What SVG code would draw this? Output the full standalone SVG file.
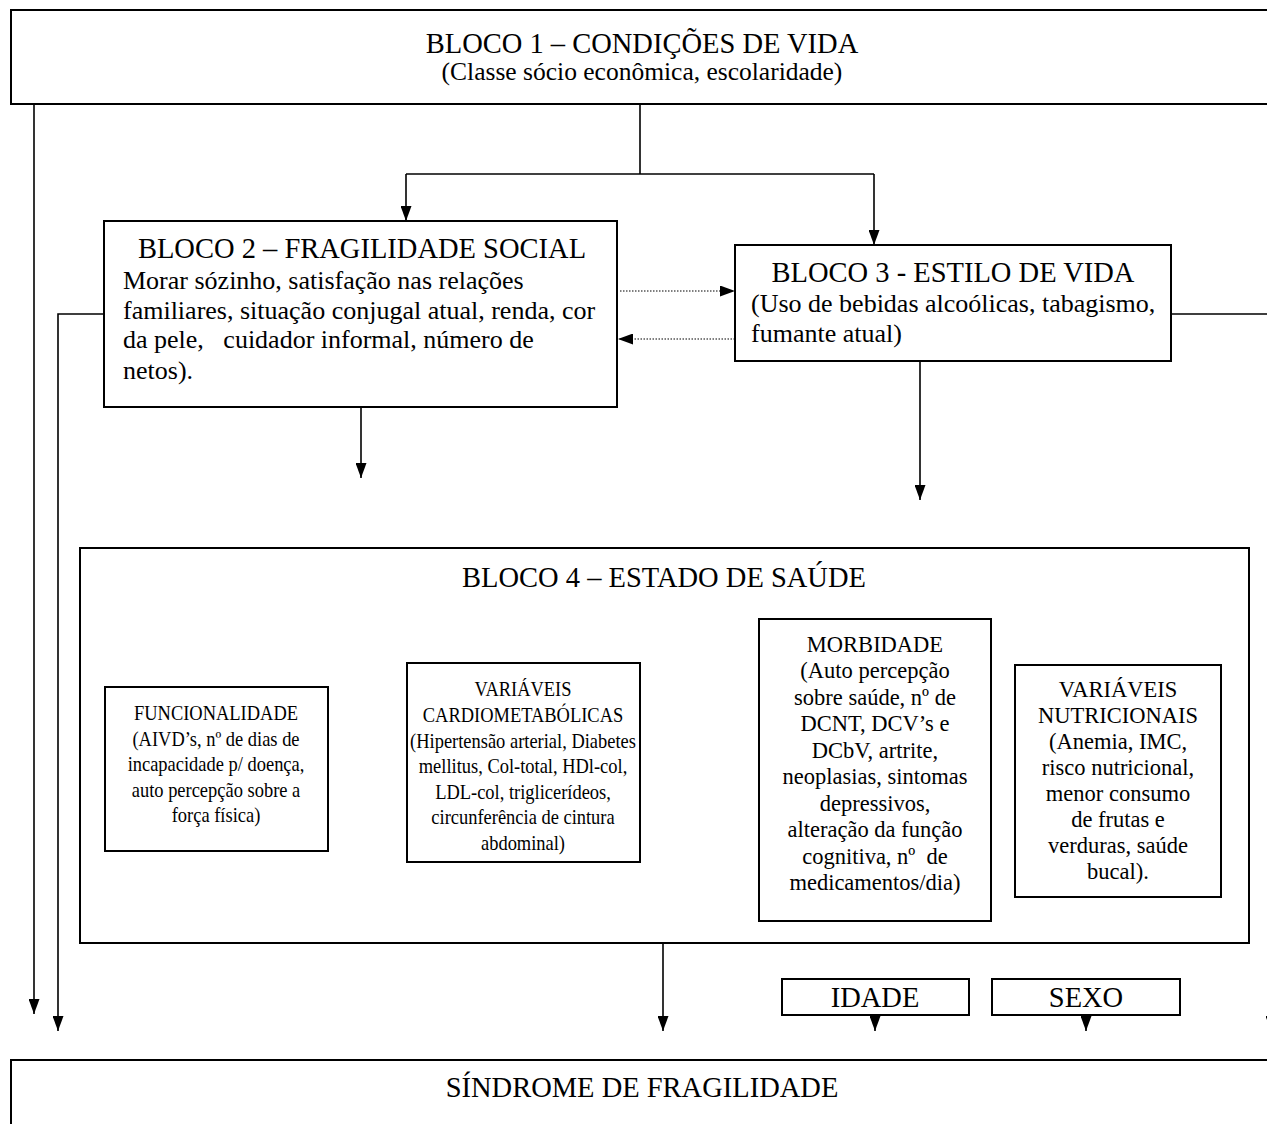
<svg xmlns="http://www.w3.org/2000/svg" width="1267" height="1124" viewBox="0 0 1267 1124">
  <style>
    .box { fill: #fff; stroke: #000; stroke-width: 2; }
    .wire { fill: none; stroke: #000; stroke-width: 1.6; }
    .dot { fill: none; stroke: #000; stroke-width: 1.2; stroke-dasharray: 1.5 1.5; }
    text { font-family: "Liberation Serif", "Times New Roman", serif; fill: #000; }
    .title { font-size: 28.5px; text-anchor: middle; }
    .sub { font-size: 25.5px; text-anchor: middle; }
    .body { font-size: 26px; }
    .cond { font-size: 20.5px; text-anchor: middle; }
    .mid { font-size: 22.5px; text-anchor: middle; }
  </style>
  <defs>
    <marker id="arrow" viewBox="0 0 15 11" refX="15" refY="5.5" markerWidth="15" markerHeight="11" markerUnits="userSpaceOnUse" orient="auto">
      <path d="M0,0 L15,5.5 L0,11 z" fill="#000"/>
    </marker>
  </defs>
  <rect width="1267" height="1124" fill="#fff"/>

  <!-- connectors -->
  <g id="connectors">
    <path class="wire" d="M34,104 V1014" marker-end="url(#arrow)"/>
    <path class="wire" d="M640,104 V174"/>
    <path class="wire" d="M406,174 H874"/>
    <path class="wire" d="M406,174 V221" marker-end="url(#arrow)"/>
    <path class="wire" d="M874,174 V245" marker-end="url(#arrow)"/>
    <path class="wire" d="M104,314 H58 V1031" marker-end="url(#arrow)"/>
    <path class="wire" d="M1171,314 H1271 V1031" marker-end="url(#arrow)"/>
    <path class="dot" d="M620,291 H735" marker-end="url(#arrow)"/>
    <path class="dot" d="M735,339 H618" marker-end="url(#arrow)"/>
    <path class="wire" d="M361,407 V478" marker-end="url(#arrow)"/>
    <path class="wire" d="M920,361 V500" marker-end="url(#arrow)"/>
    <path class="wire" d="M663,943 V1031" marker-end="url(#arrow)"/>
    <path class="wire" d="M875,1015 V1031" marker-end="url(#arrow)"/>
    <path class="wire" d="M1086,1015 V1031" marker-end="url(#arrow)"/>
  </g>

  <!-- Bloco 1 -->
  <g id="bloco1">
    <rect class="box" x="11" y="10" width="1275" height="94"/>
    <text class="title" x="642" y="53">BLOCO 1 – CONDIÇÕES DE VIDA</text>
    <text class="sub" x="642" y="80">(Classe sócio econômica, escolaridade)</text>
  </g>

  <!-- Bloco 2 -->
  <g id="bloco2">
    <rect class="box" x="104" y="221" width="513" height="186"/>
    <text class="title" x="362" y="258">BLOCO 2 – FRAGILIDADE SOCIAL</text>
    <text class="body" x="123" y="289">Morar sózinho, satisfação nas relações</text>
    <text class="body" x="123" y="319">familiares, situação conjugal atual, renda, cor</text>
    <text class="body" x="123" y="348" xml:space="preserve">da pele,   cuidador informal, número de</text>
    <text class="body" x="123" y="379">netos).</text>
  </g>

  <!-- Bloco 3 -->
  <g id="bloco3">
    <rect class="box" x="735" y="245" width="436" height="116"/>
    <text class="title" x="953" y="282">BLOCO 3 - ESTILO DE VIDA</text>
    <text class="body" x="751" y="312">(Uso de bebidas alcoólicas, tabagismo,</text>
    <text class="body" x="751" y="342">fumante atual)</text>
  </g>

  <!-- Bloco 4 -->
  <g id="bloco4">
    <rect class="box" x="80" y="548" width="1169" height="395"/>
    <text class="title" x="664" y="587">BLOCO 4 – ESTADO DE SAÚDE</text>
  </g>

  <g id="funcionalidade">
    <rect class="box" x="105" y="687" width="223" height="164"/>
    <g transform="translate(216 0) scale(0.9 1)">
      <text class="cond" x="0" y="720">FUNCIONALIDADE</text>
      <text class="cond" x="0" y="746">(AIVD’s, nº de dias de</text>
      <text class="cond" x="0" y="771">incapacidade p/ doença,</text>
      <text class="cond" x="0" y="797">auto percepção sobre a</text>
      <text class="cond" x="0" y="822">força física)</text>
    </g>
  </g>

  <g id="cardiometabolicas">
    <rect class="box" x="407" y="663" width="233" height="199"/>
    <g transform="translate(523 0) scale(0.9 1)">
      <text class="cond" x="0" y="696">VARIÁVEIS</text>
      <text class="cond" x="0" y="722">CARDIOMETABÓLICAS</text>
      <text class="cond" x="0" y="748">(Hipertensão arterial, Diabetes</text>
      <text class="cond" x="0" y="773">mellitus, Col-total, HDl-col,</text>
      <text class="cond" x="0" y="799">LDL-col, triglicerídeos,</text>
      <text class="cond" x="0" y="824">circunferência de cintura</text>
      <text class="cond" x="0" y="850">abdominal)</text>
    </g>
  </g>

  <g id="morbidade">
    <rect class="box" x="759" y="619" width="232" height="302"/>
    <text class="mid" x="875" y="652">MORBIDADE</text>
    <text class="mid" x="875" y="678">(Auto percepção</text>
    <text class="mid" x="875" y="705">sobre saúde, nº de</text>
    <text class="mid" x="875" y="731">DCNT, DCV’s e</text>
    <text class="mid" x="875" y="758">DCbV, artrite,</text>
    <text class="mid" x="875" y="784">neoplasias, sintomas</text>
    <text class="mid" x="875" y="811">depressivos,</text>
    <text class="mid" x="875" y="837">alteração da função</text>
    <text class="mid" x="875" y="864" xml:space="preserve">cognitiva, nº  de</text>
    <text class="mid" x="875" y="890">medicamentos/dia)</text>
  </g>

  <g id="nutricionais">
    <rect class="box" x="1015" y="665" width="206" height="232"/>
    <text class="mid" x="1118" y="697">VARIÁVEIS</text>
    <text class="mid" x="1118" y="723">NUTRICIONAIS</text>
    <text class="mid" x="1118" y="749">(Anemia, IMC,</text>
    <text class="mid" x="1118" y="775">risco nutricional,</text>
    <text class="mid" x="1118" y="801">menor consumo</text>
    <text class="mid" x="1118" y="827">de frutas e</text>
    <text class="mid" x="1118" y="853">verduras, saúde</text>
    <text class="mid" x="1118" y="879">bucal).</text>
  </g>

  <g id="idade">
    <rect class="box" x="782" y="979" width="187" height="36"/>
    <text class="title" x="875" y="1007">IDADE</text>
  </g>

  <g id="sexo">
    <rect class="box" x="992" y="979" width="188" height="36"/>
    <text class="title" x="1086" y="1007">SEXO</text>
  </g>

  <g id="sindrome">
    <rect class="box" x="11" y="1060" width="1275" height="80"/>
    <text class="title" x="642" y="1097">SÍNDROME DE FRAGILIDADE</text>
  </g>
</svg>
